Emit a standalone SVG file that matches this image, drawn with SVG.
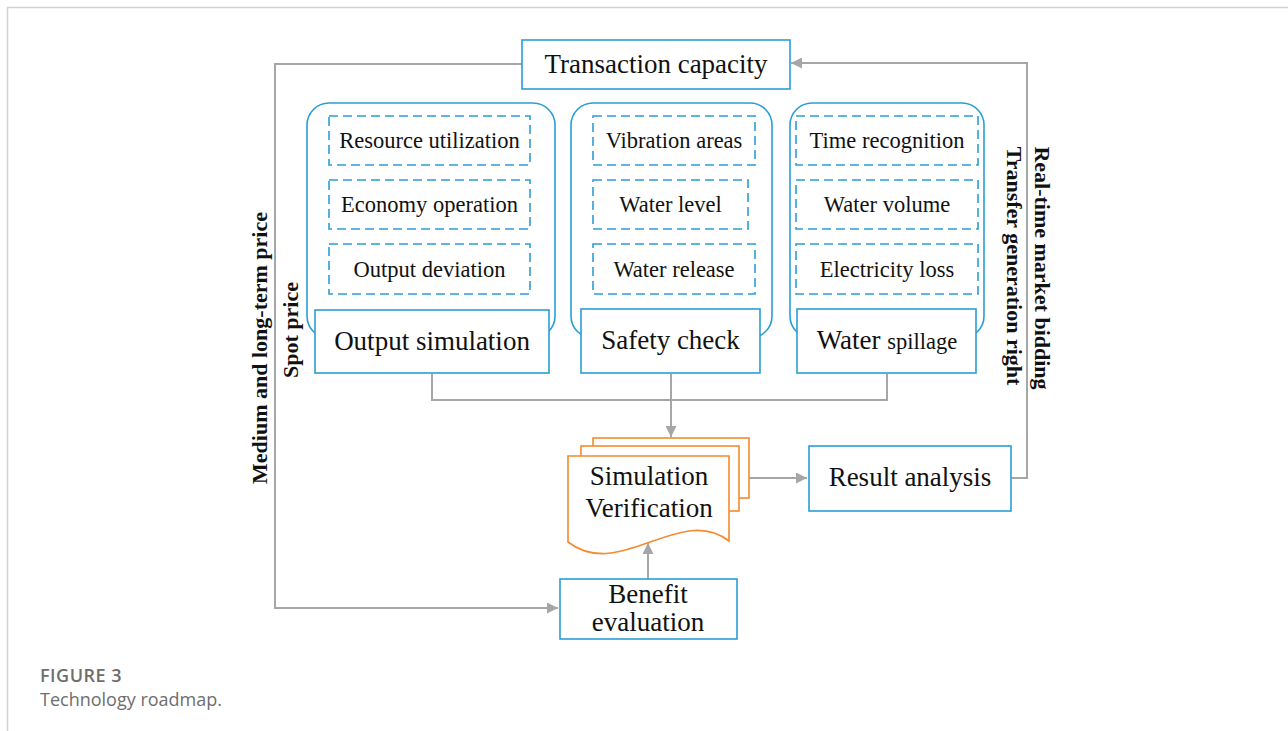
<svg xmlns="http://www.w3.org/2000/svg" width="1288" height="731" viewBox="0 0 1288 731">
  <style>
    .box { fill: #ffffff; stroke: #2a9dd8; stroke-width: 1.6; }
    .grp { fill: none; stroke: #2a9dd8; stroke-width: 1.6; }
    .dash { fill: none; stroke: #2a9dd8; stroke-width: 1.6; stroke-dasharray: 9 5; }
    .doc { fill: #ffffff; stroke: #f58a2e; stroke-width: 1.6; }
    .con { fill: none; stroke: #a6a6a6; stroke-width: 2; }
    .t-big { font-family: "Liberation Serif", "Times New Roman", serif; font-size: 27px; fill: #111; text-anchor: middle; }
    .t-sm { font-family: "Liberation Serif", "Times New Roman", serif; font-size: 22.5px; fill: #111; text-anchor: middle; }
    .t-v { font-family: "Liberation Serif", "Times New Roman", serif; font-size: 22px; font-weight: bold; fill: #111; text-anchor: middle; }
    .cap { font-family: "Open Sans", "Noto Sans", sans-serif; fill: #6e6e6e; }
  </style>
  <defs>
    <marker id="arrow" viewBox="0 0 10 10" refX="10" refY="5" markerWidth="11" markerHeight="11" markerUnits="userSpaceOnUse" orient="auto">
      <path d="M0,0 L10,5 L0,10 Z" fill="#a6a6a6"/>
    </marker>
  </defs>

  <!-- page frame -->
  <path d="M7.5,731 V7.5 H1288" fill="none" stroke="#d2d2d2" stroke-width="1.5"/>

  <!-- connectors -->
  <g id="connectors">
    <path class="con" d="M522,64 H275 V608 H558" marker-end="url(#arrow)"/>
    <path class="con" d="M1011,478 H1027 V63 H791" marker-end="url(#arrow)"/>
    <path class="con" d="M432,374 V400 H887 V374"/>
    <path class="con" d="M671,374 V437" marker-end="url(#arrow)"/>
    <path class="con" d="M749,478 H807" marker-end="url(#arrow)"/>
    <path class="con" d="M648,579 V543" marker-end="url(#arrow)"/>
  </g>

  <!-- edge labels -->
  <g id="labels">
    <text class="t-v" transform="translate(267,348) rotate(-90)">Medium and long-term price</text>
    <text class="t-v" transform="translate(298,330) rotate(-90)">Spot price</text>
    <text class="t-v" transform="translate(1035,268) rotate(90)">Real-time market bidding</text>
    <text class="t-v" transform="translate(1007,266) rotate(90)">Transfer generation right</text>
  </g>

  <g id="transaction-capacity">
    <rect class="box" x="522" y="40" width="268" height="49"/>
    <text class="t-big" x="656" y="73">Transaction capacity</text>
  </g>

  <g id="output-simulation-group">
    <rect class="grp" x="307" y="103" width="248" height="235" rx="22"/>
    <rect class="dash" x="329" y="116" width="201" height="49"/>
    <text class="t-sm" x="429.5" y="148">Resource utilization</text>
    <rect class="dash" x="329" y="180" width="201" height="49"/>
    <text class="t-sm" x="429.5" y="212">Economy operation</text>
    <rect class="dash" x="329" y="244" width="201" height="50"/>
    <text class="t-sm" x="429.5" y="276.5">Output deviation</text>
  </g>
  <g id="output-simulation">
    <rect class="box" x="315" y="310" width="234" height="63"/>
    <text class="t-big" x="432" y="350">Output simulation</text>
  </g>

  <g id="safety-check-group">
    <rect class="grp" x="571" y="103" width="201" height="235" rx="22"/>
    <rect class="dash" x="593" y="116" width="162" height="49"/>
    <text class="t-sm" x="674" y="148">Vibration areas</text>
    <rect class="dash" x="593" y="180" width="155" height="49"/>
    <text class="t-sm" x="670.5" y="212">Water level</text>
    <rect class="dash" x="593" y="244" width="162" height="50"/>
    <text class="t-sm" x="674" y="276.5">Water release</text>
  </g>
  <g id="safety-check">
    <rect class="box" x="581" y="309" width="179" height="64"/>
    <text class="t-big" x="670.5" y="349">Safety check</text>
  </g>

  <g id="water-spillage-group">
    <rect class="grp" x="790" y="103" width="194" height="235" rx="22"/>
    <rect class="dash" x="796" y="116" width="182" height="49"/>
    <text class="t-sm" x="887" y="148">Time recognition</text>
    <rect class="dash" x="796" y="180" width="182" height="49"/>
    <text class="t-sm" x="887" y="212">Water volume</text>
    <rect class="dash" x="796" y="244" width="182" height="50"/>
    <text class="t-sm" x="887" y="276.5">Electricity loss</text>
  </g>
  <g id="water-spillage">
    <rect class="box" x="797" y="309" width="179" height="64"/>
    <text class="t-big" x="887" y="349">Water <tspan font-size="22.5px">spillage</tspan></text>
  </g>

  <g id="simulation-verification">
    <rect class="doc" x="593" y="438" width="156" height="60"/>
    <rect class="doc" x="581" y="446" width="158" height="65"/>
    <path class="doc" d="M568,456 H729 V541 C680,503 620,582 568,542 Z"/>
    <text class="t-big" x="649" y="485">Simulation</text>
    <text class="t-big" x="649" y="517">Verification</text>
  </g>

  <g id="result-analysis">
    <rect class="box" x="809" y="446" width="202" height="65"/>
    <text class="t-big" x="910" y="486">Result analysis</text>
  </g>

  <g id="benefit-evaluation">
    <rect class="box" x="560" y="579" width="177" height="60"/>
    <text class="t-big" x="648" y="603">Benefit</text>
    <text class="t-big" x="648" y="631">evaluation</text>
  </g>

  <!-- caption -->
  <text class="cap" x="40" y="682" font-size="18px" font-weight="600" letter-spacing="0.5">FIGURE 3</text>
  <text class="cap" x="40" y="706" font-size="18px" fill="#7a7a7a">Technology roadmap.</text>
</svg>
